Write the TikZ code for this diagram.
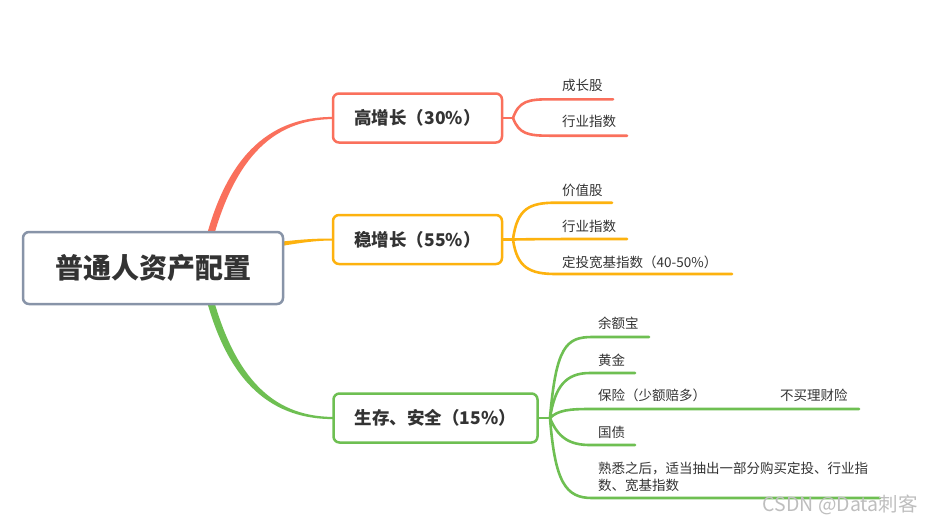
\documentclass[tikz,border=0pt]{standalone}
\usepackage{fontspec}
\setmainfont{Noto Sans CJK SC}
\definecolor{cred}{RGB}{250,112,92}
\definecolor{corange}{RGB}{253,178,14}
\definecolor{cgreen}{RGB}{110,191,82}
\definecolor{cgray}{RGB}{136,148,168}
\definecolor{ctext}{RGB}{51,51,51}
\definecolor{cmark}{RGB}{190,190,190}
\tikzset{
  rootbox/.style={draw=cgray, line width=2.5pt, rounded corners=6pt, fill=white,
    minimum width=260pt, minimum height=72pt, inner sep=0pt,
    font=\fontsize{28}{30}\selectfont\bfseries, text=ctext},
  mainbox/.style={line width=2.5pt, rounded corners=6pt, fill=white,
    minimum height=49pt, inner sep=0pt,
    font=\fontsize{17.5}{20}\selectfont\bfseries, text=ctext},
  leaf/.style={anchor=base west, inner sep=0pt, font=\fontsize{13.5}{17}\selectfont, text=ctext},
  sub/.style={line width=2.6pt, line cap=round},
  wmark/.style={anchor=east, inner sep=0pt, font=\fontsize{19.5}{21}\selectfont, text=cmark}
}
\begin{document}
\begin{tikzpicture}[x=1pt,y=-1pt]
\useasboundingbox[fill=white] (0,0) rectangle (932,523);

% main tapered branches
\fill[cred] (203,250) .. controls (224,160) and (266,116.9) .. (333,116.9)
  -- (333,119.1) .. controls (270,119.4) and (232,162) .. (210,250) -- cycle;
\fill[cgreen] (203,286) .. controls (224,376) and (266,419.1) .. (333,419.1)
  -- (333,416.9) .. controls (270,416.6) and (232,374) .. (210,286) -- cycle;
\fill[corange] (270,243) .. controls (298,239.5) and (315,238.4) .. (333,238.5)
  -- (333,240.5) .. controls (315,240.5) and (298,243) .. (270,248) -- cycle;

% root and main boxes
\node[rootbox] (root) at (153,268) {普通人资产配置};
\node[mainbox, draw=cred, minimum width=169pt] (b1) at (417.5,118) {高增长（30\%）};
\node[mainbox, draw=corange, minimum width=169pt] (b2) at (417.5,239.5) {稳增长（55\%）};
\node[mainbox, draw=cgreen, minimum width=204pt] (b3) at (435.5,418) {生存、安全（15\%）};

% junctions
\coordinate (j1) at (513,118);
\coordinate (j2) at (513,239.5);
\coordinate (j3) at (550,418);

% red group
\coordinate (r1) at (613,99.3);
\coordinate (r2) at (627,135.7);
\draw[sub, cred] (b1.east) -- (j1);
\draw[sub, cred] (j1) .. controls (519,101) and (528,99.3) .. (550,99.3) -- (r1);
\draw[sub, cred] (j1) .. controls (519,134) and (528,135.7) .. (550,135.7) -- (r2);
\node[leaf] (l11) at (562,90) {成长股};
\node[leaf] (l12) at (562,126) {行业指数};

% orange group
\coordinate (o1) at (612,202.7);
\coordinate (o2) at (627,239);
\coordinate (o3) at (732,274);
\draw[sub, corange] (b2.east) -- (j2);
\draw[sub, corange] (j2) .. controls (517,208) and (530,202.7) .. (556,202.7) -- (o1);
\draw[sub, corange] (j2) .. controls (540,239) and (560,239) .. (o2);
\draw[sub, corange] (j2) .. controls (517,268) and (530,274) .. (556,274) -- (o3);
\node[leaf] (l21) at (562,195) {价值股};
\node[leaf] (l22) at (562,231) {行业指数};
\node[leaf] (l23) at (562,267) {定投宽基指数（40-50\%）};

% green group
\coordinate (g1) at (649,337);
\coordinate (g2) at (635,373);
\coordinate (g3) at (859,409);
\coordinate (g4) at (635,445);
\coordinate (g5) at (880,498);
\draw[sub, cgreen] (b3.east) -- (j3);
\draw[sub, cgreen] (j3) .. controls (556,347) and (566,337) .. (592,337) -- (g1);
\draw[sub, cgreen] (j3) .. controls (555,386) and (566,373) .. (590,373) -- (g2);
\draw[sub, cgreen] (j3) .. controls (558,410) and (570,409) .. (590,409) -- (g3);
\draw[sub, cgreen] (j3) .. controls (558,438) and (570,445) .. (590,445) -- (g4);
\draw[sub, cgreen] (j3) .. controls (555,483) and (566,498) .. (592,498) -- (g5);
\node[leaf] (l31) at (598,328) {余额宝};
\node[leaf] (l32) at (598,365) {黄金};
\node[leaf] (l33) at (598,400) {保险（少额赔多）};
\node[leaf] (l34) at (780,400) {不买理财险};
\node[leaf] (l35) at (598,437) {国债};
\node[leaf, anchor=south west, align=left] (l36) at (598,492)
  {熟悉之后，适当抽出一部分购买定投、行业指\\数、宽基指数};

% watermark
\node[wmark] (wm) at (918,505) {CSDN @Data刺客};
\end{tikzpicture}
\end{document}
